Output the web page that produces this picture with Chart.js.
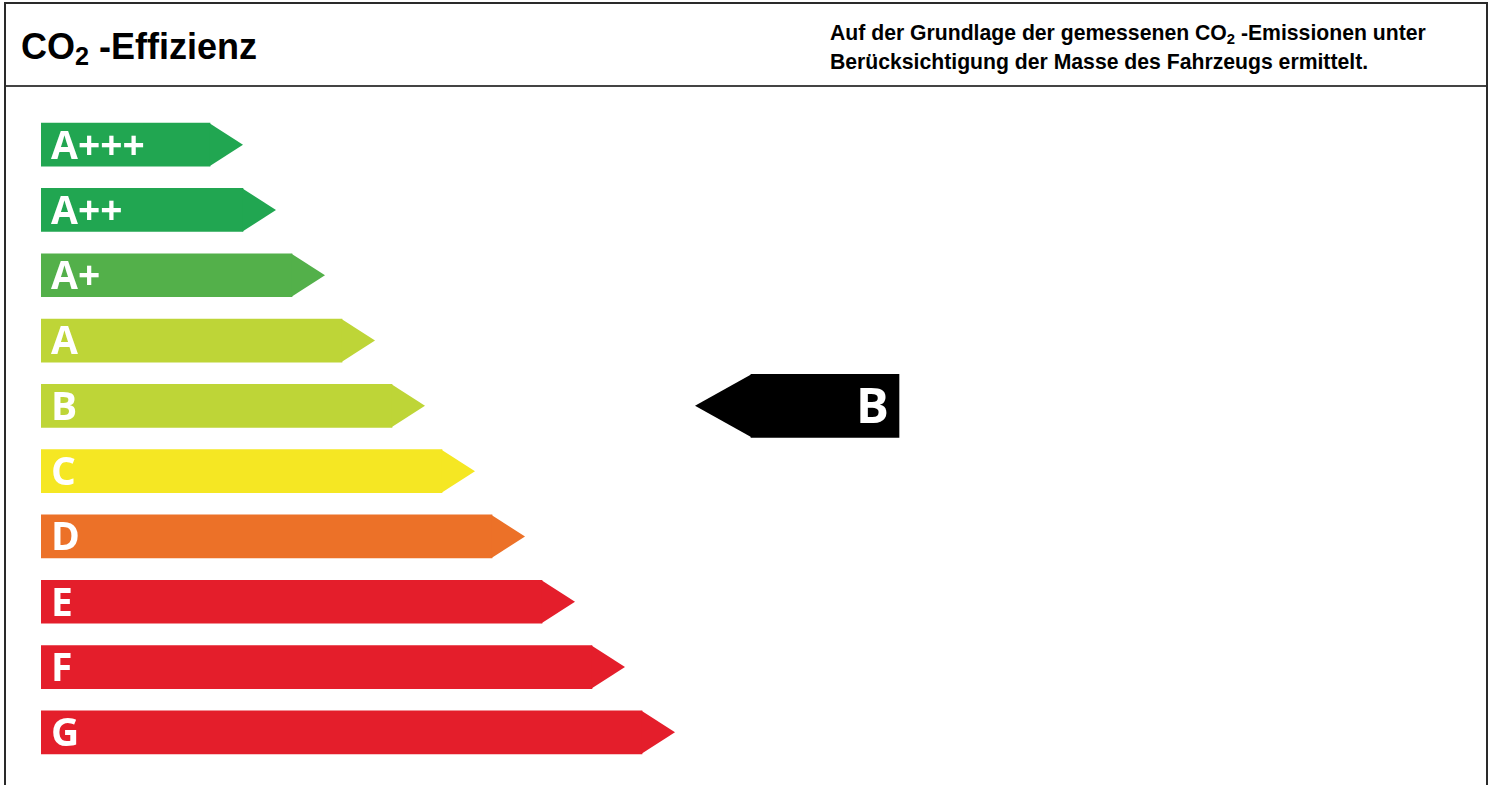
<!DOCTYPE html>
<html lang="de">
<head>
<meta charset="utf-8">
<title>CO2-Effizienz</title>
<script src="https://cdn.jsdelivr.net/npm/chart.js@4.4.1/dist/chart.umd.min.js"></script>
<style>
  html, body { margin: 0; padding: 0; background: #fff; }
  body { width: 1488px; height: 785px; position: relative; overflow: hidden; font-family: "Liberation Sans", Arial, sans-serif; }
  .frame { position: absolute; left: 4px; top: 2px; width: 1480px; height: 800px; border: 2px solid #2a2a2a; border-bottom: none; }
  .head { position: absolute; left: 0; top: 0; width: 100%; height: 81px; border-bottom: 2px solid #444; }
  .title { position: absolute; left: 21px; top: 29px; font-size: 36px; line-height: 36px; font-weight: bold; color: #000; white-space: nowrap; }
  .note { position: absolute; left: 830px; top: 18px; font-size: 21.2px; line-height: 29px; font-weight: bold; color: #000; white-space: nowrap; }
  sub { font-size: 0.7em; vertical-align: -0.25em; line-height: 0; }
  #chart { position: absolute; left: 0; top: 0; }
</style>
</head>
<body>
<div class="frame"><div class="head"></div></div>
<div class="title">CO<sub>2</sub> -Effizienz</div>
<div class="note">Auf der Grundlage der gemessenen CO<sub>2</sub> -Emissionen unter<br>Berücksichtigung der Masse des Fahrzeugs ermittelt.</div>
<canvas id="chart" width="1488" height="785"></canvas>
<script>
// efficiency classes, top to bottom
var classes = ["A+++", "A++", "A+", "A", "B", "C", "D", "E", "F", "G"];
// length of each bar body (without the arrow tip)
var barLengths = [169, 202, 251, 301, 351, 401, 451, 501, 551, 601];
var barColors = ["#21a651", "#21a651", "#53b04a", "#bed537", "#bed537", "#f5e723", "#ec7128", "#e41e2b", "#e41e2b", "#e41e2b"];
// the vehicle's class and where its marker sits on the same scale
var rating = "B";
var markerRange = [710, 858];

var arrows = {
  id: "arrows",
  afterDatasetsDraw: function (chart) {
    var ctx = chart.ctx;
    ctx.save();
    chart.data.datasets.forEach(function (ds, di) {
      var meta = chart.getDatasetMeta(di);
      meta.data.forEach(function (bar, i) {
        if (ds.data[i] == null) return;
        var h = bar.height, y = bar.y, tip = ds.tipLength;
        ctx.fillStyle = Array.isArray(ds.backgroundColor) ? ds.backgroundColor[i] : ds.backgroundColor;
        ctx.beginPath();
        if (ds.pointLeft) {
          var l = Math.min(bar.x, bar.base);
          ctx.moveTo(l + 0.5, y - h / 2);
          ctx.lineTo(l - tip, y);
          ctx.lineTo(l + 0.5, y + h / 2);
        } else {
          var r = Math.max(bar.x, bar.base);
          ctx.moveTo(r - 0.5, y - h / 2);
          ctx.lineTo(r + tip, y);
          ctx.lineTo(r - 0.5, y + h / 2);
        }
        ctx.closePath();
        ctx.fill();

        // class letter
        var size = ds.labelSize;
        ctx.font = "bold " + size + "px 'Open Sans', sans-serif";
        ctx.fillStyle = "#fff";
        ctx.textBaseline = "alphabetic";
        var base = y + size * 0.714 / 2;
        if (ds.pointLeft) {
          ctx.textAlign = "right";
          ctx.fillText(classes[i], Math.max(bar.x, bar.base) - 10, base);
        } else {
          ctx.textAlign = "left";
          ctx.fillText(classes[i], Math.min(bar.x, bar.base) + 10, base);
        }
      });
    });
    ctx.restore();
  }
};

new Chart(document.getElementById("chart"), {
  type: "bar",
  data: {
    labels: classes,
    datasets: [{
      data: barLengths,
      backgroundColor: barColors,
      barThickness: 43,
      grouped: false,
      tipLength: 33,
      labelSize: 39
    }, {
      data: classes.map(function (c) { return c === rating ? markerRange : null; }),
      backgroundColor: "#000",
      barThickness: 63,
      grouped: false,
      pointLeft: true,
      tipLength: 56,
      labelSize: 49
    }]
  },
  options: {
    indexAxis: "y",
    responsive: false,
    animation: false,
    layout: { padding: { left: 41, right: 47, top: 112, bottom: 20 } },
    scales: {
      x: { display: false, min: 0, max: 1400 },
      y: { display: false }
    },
    plugins: { legend: { display: false }, tooltip: { enabled: false } }
  },
  plugins: [arrows]
});
</script>
</body>
</html>
